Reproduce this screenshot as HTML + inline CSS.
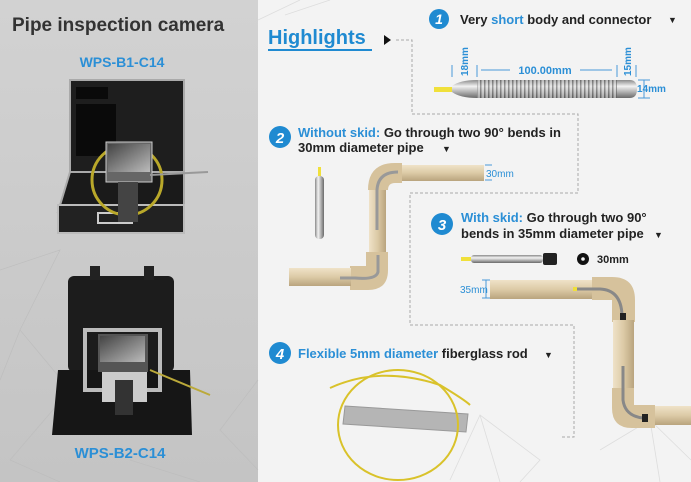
<!DOCTYPE html>
<html><head><meta charset="utf-8"><style>
html,body{margin:0;padding:0;width:691px;height:482px;overflow:hidden;background:#f3f3f3}
svg{display:block;font-family:"Liberation Sans",Arial,sans-serif}
</style></head><body>
<svg width="691" height="482" viewBox="0 0 691 482" xmlns="http://www.w3.org/2000/svg">
<defs>
<linearGradient id="lg" x1="0" y1="0" x2="0" y2="1"><stop offset="0" stop-color="#d2d2d2"/><stop offset="1" stop-color="#c4c4c4"/></linearGradient>
<linearGradient id="ph" x1="0" y1="0" x2="0" y2="1"><stop offset="0" stop-color="#efe2c8"/><stop offset="0.5" stop-color="#dccaa6"/><stop offset="1" stop-color="#b9a47e"/></linearGradient>
<linearGradient id="pv" x1="0" y1="0" x2="1" y2="0"><stop offset="0" stop-color="#efe2c8"/><stop offset="0.5" stop-color="#dccaa6"/><stop offset="1" stop-color="#b9a47e"/></linearGradient>
<linearGradient id="met" x1="0" y1="0" x2="0" y2="1"><stop offset="0" stop-color="#8a8a8a"/><stop offset="0.35" stop-color="#f2f2f2"/><stop offset="1" stop-color="#6a6a6a"/></linearGradient>
<linearGradient id="metv" x1="0" y1="0" x2="1" y2="0"><stop offset="0" stop-color="#8a8a8a"/><stop offset="0.35" stop-color="#f2f2f2"/><stop offset="1" stop-color="#6a6a6a"/></linearGradient>
<linearGradient id="scr" x1="0" y1="0" x2="1" y2="1"><stop offset="0" stop-color="#444"/><stop offset="1" stop-color="#bbb"/></linearGradient>
<pattern id="spr" width="4" height="20" patternUnits="userSpaceOnUse"><rect width="4" height="20" fill="#ddd"/><rect width="1.5" height="20" fill="#555"/></pattern>
</defs>
<rect x="0" y="0" width="258" height="482" fill="url(#lg)"/>
<g stroke="#bbb" stroke-width="0.7" fill="none" opacity="0.8">
<path d="M0 270 L60 250 L20 330 L0 380 M20 330 L70 390 L10 460 L60 482 M130 460 L200 482 M258 380 L220 430 L258 470"/>
</g>
<text x="12" y="31" font-size="19" font-weight="bold" fill="#333">Pipe inspection camera</text>
<text x="122" y="67" font-size="14" font-weight="bold" fill="#2b8fd6" text-anchor="middle">WPS-B1-C14</text>
<text x="120" y="458" font-size="15" font-weight="bold" fill="#2b8fd6" text-anchor="middle">WPS-B2-C14</text>
<!-- case 1 -->
<rect x="70" y="80" width="114" height="92" fill="#1e1e1e" stroke="#aaa" stroke-width="2"/>
<rect x="76" y="87" width="32" height="12" fill="#0a0a0a"/>
<rect x="76" y="104" width="40" height="52" fill="#0a0a0a"/>
<polygon points="70,172 184,172 184,212 58,212" fill="#1a1a1a" stroke="#aaa" stroke-width="2"/>
<rect x="58" y="205" width="126" height="28" fill="#222" stroke="#bbb" stroke-width="2"/>
<rect x="98" y="213" width="34" height="10" fill="none" stroke="#ccc" stroke-width="2"/>
<circle cx="127" cy="180" r="35" fill="none" stroke="#b9a82a" stroke-width="3"/>
<rect x="106" y="142" width="46" height="40" fill="#666" stroke="#ccc"/>
<rect x="108" y="144" width="42" height="28" fill="url(#scr)"/>
<rect x="118" y="182" width="20" height="40" fill="#444"/>
<line x1="150" y1="175" x2="208" y2="172" stroke="#999" stroke-width="2"/>
<!-- case 2 -->
<rect x="68" y="276" width="106" height="96" rx="6" fill="#1c1c1c"/>
<rect x="90" y="266" width="10" height="14" fill="#222"/><rect x="144" y="266" width="10" height="14" fill="#222"/>
<polygon points="58,370 190,370 192,435 52,435" fill="#161616"/>
<rect x="85" y="330" width="75" height="60" fill="none" stroke="#bbb" stroke-width="4"/>
<rect x="98" y="334" width="50" height="38" fill="#555"/>
<rect x="100" y="336" width="45" height="26" fill="url(#scr)"/>
<rect x="102" y="372" width="45" height="30" fill="#ccc"/>
<rect x="115" y="380" width="18" height="35" fill="#333"/>
<line x1="150" y1="370" x2="210" y2="395" stroke="#bba93a" stroke-width="2"/>
<g stroke="#ddd" stroke-width="0.8" fill="none">
<path d="M258 20 L300 0 M285 15 L330 0 M450 480 L480 415 L540 460 L520 482 M480 415 L500 482 M600 450 L650 420 L691 460 M650 420 L660 482"/>
</g>
<text x="268" y="44" font-size="20" font-weight="bold" fill="#1f8ad1">Highlights</text>
<line x1="268" y1="50" x2="372" y2="50" stroke="#1f8ad1" stroke-width="2"/>
<polygon points="384,35 384,45 391,40" fill="#111"/>
<g stroke="#aaa" stroke-width="1" stroke-dasharray="3,2" fill="none">
<path d="M396 40 H412 V114 H578 V193 H410 V325 H574 V437 H560"/>
</g>
<circle cx="439" cy="19" r="10" fill="#1f8ad1"/><text x="439" y="24" font-size="14" font-weight="bold" font-style="italic" fill="#fff" text-anchor="middle">1</text>
<text x="460" y="24" font-size="13" font-weight="bold" fill="#222">Very <tspan fill="#2b8fd6">short</tspan> body and connector</text>
<text x="668" y="23" font-size="9" fill="#222">▼</text>
<rect x="434" y="87" width="18" height="5" fill="#f0e03a"/>
<path d="M452 86 Q460 80 477 80 V98 Q460 98 452 92 Z" fill="url(#met)"/>
<rect x="477" y="80" width="140" height="18" fill="url(#spr)"/>
<rect x="477" y="80" width="140" height="18" fill="url(#met)" opacity="0.45"/>
<path d="M617 80 H630 Q637 80 637 89 Q637 98 630 98 H617 Z" fill="url(#met)"/>
<g stroke="#4a9ad8" stroke-width="1" fill="none"><path d="M452 65 V77 M477 65 V77 M481 70 H510 M580 70 H612 M617 65 V77 M636 65 V77 M638 80 H650 M638 98 H650 M644 80 V98"/></g>
<text x="545" y="74" font-size="11" font-weight="bold" fill="#2b8fd6" text-anchor="middle">100.00mm</text>
<text transform="translate(468,76) rotate(-90)" font-size="10" font-weight="bold" fill="#2b8fd6">18mm</text>
<text transform="translate(631,76) rotate(-90)" font-size="10" font-weight="bold" fill="#2b8fd6">15mm</text>
<text x="637" y="92" font-size="10" font-weight="bold" fill="#2b8fd6">14mm</text>
<circle cx="280" cy="137" r="11" fill="#1f8ad1"/><text x="280" y="143" font-size="15" font-weight="bold" font-style="italic" fill="#fff" text-anchor="middle">2</text>
<text x="298" y="137" font-size="13" font-weight="bold" fill="#222"><tspan fill="#2b8fd6">Without skid:</tspan> Go through two 90° bends in</text>
<text x="298" y="152" font-size="13" font-weight="bold" fill="#222">30mm diameter pipe</text>
<text x="442" y="152" font-size="9" fill="#222">▼</text>
<rect x="318" y="167" width="3" height="10" fill="#f0e03a"/>
<rect x="315" y="176" width="9" height="63" rx="4" fill="url(#metv)"/>
<rect x="400" y="165" width="84" height="16" fill="url(#ph)"/>
<path d="M368 190 Q368 163 395 163 H402 V183 H395 Q388 183 388 190 Z" fill="#d6c29c"/>
<rect x="369" y="190" width="17" height="62" fill="url(#pv)"/>
<path d="M366 252 H388 V270 Q388 290 368 290 H350 V266 H366 Z" fill="#d6c29c"/>
<rect x="289" y="268" width="62" height="18" fill="url(#ph)"/>
<path d="M398 172 Q378 172 377 190 V230" stroke="#999" stroke-width="3" fill="none"/>
<path d="M378 255 V272 Q376 280 355 278 H340" stroke="#999" stroke-width="3" fill="none"/>
<g stroke="#4a9ad8" stroke-width="1"><line x1="485" y1="165" x2="492" y2="165"/><line x1="485" y1="180" x2="492" y2="180"/></g>
<text x="486" y="177" font-size="10" fill="#2b8fd6">30mm</text>
<circle cx="442" cy="224" r="11" fill="#1f8ad1"/><text x="442" y="230" font-size="15" font-weight="bold" font-style="italic" fill="#fff" text-anchor="middle">3</text>
<text x="461" y="222" font-size="13" font-weight="bold" fill="#222"><tspan fill="#2b8fd6">With skid:</tspan> Go through two 90°</text>
<text x="461" y="238" font-size="13" font-weight="bold" fill="#222">bends in 35mm diameter pipe</text>
<text x="654" y="238" font-size="9" fill="#222">▼</text>
<rect x="461" y="257" width="10" height="4" fill="#f0e03a"/>
<rect x="471" y="255" width="72" height="8" rx="3" fill="url(#met)"/>
<rect x="543" y="253" width="14" height="12" rx="2" fill="#222"/>
<circle cx="583" cy="259" r="6" fill="#111"/><circle cx="583" cy="259" r="1.8" fill="#f3f3f3"/>
<text x="597" y="263" font-size="11" font-weight="bold" fill="#222">30mm</text>
<rect x="490" y="280" width="104" height="19" fill="url(#ph)"/>
<path d="M592 277 H612 Q635 277 635 300 V322 H612 V300 H592 Z" fill="#d6c29c"/>
<rect x="613" y="320" width="21" height="70" fill="url(#pv)"/>
<path d="M612 388 H634 V405 H655 V428 H632 Q612 428 612 408 Z" fill="#d6c29c"/>
<rect x="655" y="406" width="36" height="19" fill="url(#ph)"/>
<path d="M575 289 H600 Q621 290 622 315" stroke="#888" stroke-width="3" fill="none"/>
<rect x="620" y="313" width="6" height="7" fill="#222"/>
<path d="M623 366 V400 Q625 416 643 418" stroke="#888" stroke-width="3" fill="none"/>
<rect x="642" y="414" width="6" height="8" fill="#222"/>
<rect x="573" y="287" width="4" height="4" fill="#f0e03a"/>
<g stroke="#4a9ad8" stroke-width="1"><line x1="482" y1="280" x2="490" y2="280"/><line x1="482" y1="298" x2="490" y2="298"/><line x1="486" y1="280" x2="486" y2="298"/></g>
<text x="460" y="293" font-size="10" fill="#2b8fd6">35mm</text>
<circle cx="280" cy="353" r="11" fill="#1f8ad1"/><text x="280" y="359" font-size="15" font-weight="bold" font-style="italic" fill="#fff" text-anchor="middle">4</text>
<text x="298" y="358" font-size="13" font-weight="bold" fill="#222"><tspan fill="#2b8fd6">Flexible 5mm diameter</tspan> fiberglass rod</text>
<text x="544" y="358" font-size="9" fill="#222">▼</text>
<polygon points="345,406 468,414 466,432 343,424" fill="#b5b5b5" stroke="#999"/>
<path d="M330 388 Q380 365 440 385 Q465 400 470 405" stroke="#d9c22a" stroke-width="2" fill="none"/>
<ellipse cx="398" cy="425" rx="60" ry="55" fill="none" stroke="#d9c22a" stroke-width="2"/>
</svg>
</body></html>
